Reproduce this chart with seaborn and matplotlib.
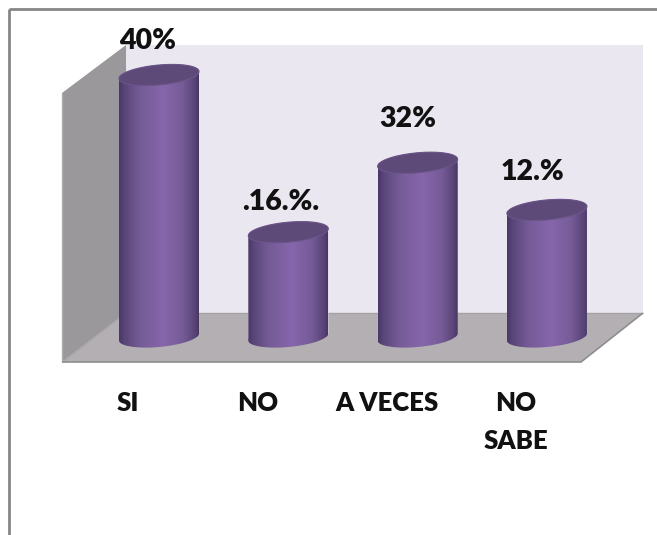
import numpy as np
import pandas as pd
import matplotlib
matplotlib.use("Agg")
import matplotlib.pyplot as plt
from matplotlib.colors import LinearSegmentedColormap
from matplotlib.lines import Line2D
from matplotlib.patches import Polygon
from matplotlib.path import Path
import seaborn as sns

# ---- data -------------------------------------------------------------
categories = ["SI", "NO", "A VECES", "NO\nSABE"]
bar_heights = [40.0, 16.0, 26.6, 19.4]      # as drawn
value_labels = ["40%", ".16.%.", "32%", "12.%"]  # as printed on the chart

# ---- style ------------------------------------------------------------
W, H = 657, 535
sns.set_theme(style="white")
plt.rcParams["font.family"] = ["Lato", "DejaVu Sans"]
plt.rcParams["font.weight"] = "bold"

fig = plt.figure(figsize=(W / 100, H / 100), dpi=100, facecolor="white")
FLOOR_FRONT = 362
ax = fig.add_axes([0, 1 - FLOOR_FRONT / H, 1, FLOOR_FRONT / H])
ax.patch.set_visible(False)


def fx(px):
    return px / W


def fy(py):
    return 1 - py / H


def fig_poly(pts, color, z=-5):
    fig.add_artist(Polygon([(fx(a), fy(b)) for a, b in pts], closed=True,
                           facecolor=color, edgecolor="none",
                           transform=fig.transFigure, zorder=z))


def fig_line(xs, ys, color, lw, z=-4):
    fig.add_artist(Line2D([fx(a) for a in xs], [fy(b) for b in ys], color=color,
                          lw=lw, transform=fig.transFigure, zorder=z,
                          solid_capstyle="butt"))


# 3-D box: back wall, side wall, floor
fig_poly([(126, 45), (643, 45), (643, 313), (126, 313)], "#EAE7F0")
fig_poly([(62, 93), (126, 45), (126, 313), (62, 362)], "#9A989B")
fig_poly([(62, 362), (126, 313), (643, 313), (581, 362)], "#B3AFB3")
fig_line([126, 643], [313, 313], "#A5A2A7", 1)
fig_line([64, 126], [361, 313], "#A9A7AA", 1)
fig_line([62, 62], [93, 362], "#B0AEB2", 1)
fig_line([62, 581, 643], [362, 362, 313], "#8E8D90", 1.2)
# outer frame
fig_line([9, 657], [9, 9], "#868686", 2)
fig_line([9, 9], [9, 535], "#868686", 2)

# ---- bars -------------------------------------------------------------
df = pd.DataFrame({"category": categories, "height": bar_heights})
SPACING = 129.3
CYL_W = 80
FIRST_X = 159
BASE_Y = 337
PX_PER_UNIT = (BASE_Y - 75) / max(bar_heights)

sns.barplot(data=df, x="category", y="height", ax=ax, color="#7A5E9C",
            saturation=1, width=CYL_W / SPACING, zorder=3)

xlim = (-FIRST_X / SPACING, (W - FIRST_X) / SPACING)
ylim = (-(FLOOR_FRONT - BASE_Y) / PX_PER_UNIT, BASE_Y / PX_PER_UNIT)

cmap = LinearSegmentedColormap.from_list(
    "cyl",
    [(0.0, "#49386A"), (0.07, "#5A4679"), (0.25, "#735A95"), (0.55, "#8766AC"),
     (0.8, "#755B97"), (0.95, "#584478"), (1.0, "#47365F")])
grad = np.linspace(0, 1, 256).reshape(1, -1)

ELL_B = 10 / PX_PER_UNIT    # half-height of the ellipse
ELL_K = 3.5 / PX_PER_UNIT   # tilt of the ellipse (right side higher)

for bar in list(ax.patches):
    x0, w, top = bar.get_x(), bar.get_width(), bar.get_height()
    cx, a = x0 + w / 2, w / 2
    t_low = np.linspace(np.pi, 2 * np.pi, 60)
    low_x = cx + a * np.cos(t_low)
    low_y = ELL_B * np.sin(t_low) + ELL_K * np.cos(t_low)
    t_up = np.linspace(0, np.pi, 60)
    up_x = cx + a * np.cos(t_up)
    up_y = top + ELL_B * np.sin(t_up) + ELL_K * np.cos(t_up)
    body = Path(np.column_stack([np.r_[low_x, up_x], np.r_[low_y, up_y]]))
    bar.set_clip_path(body, ax.transData)
    im = ax.imshow(grad, cmap=cmap, extent=(x0, x0 + w, -2 * ELL_B, top + 2 * ELL_B),
                   aspect="auto", zorder=3.1, interpolation="bilinear")
    im.set_clip_path(body, ax.transData)
    t = np.linspace(0, 2 * np.pi, 120)
    cap = np.column_stack([cx + a * np.cos(t),
                           top + ELL_B * np.sin(t) + ELL_K * np.cos(t)])
    ax.add_patch(Polygon(cap, closed=True, facecolor="#5E4A78",
                         edgecolor="#6B5589", lw=0.8, zorder=3.2))

ax.set_xlim(*xlim)
ax.set_ylim(*ylim)

# ---- value labels -----------------------------------------------------
label_dx = [-11, -8, -10, -14]
label_dy = [34, 30, 44, 38]
for i, (v, txt) in enumerate(zip(bar_heights, value_labels)):
    ax.annotate(txt, (i, v), xytext=(label_dx[i], label_dy[i]),
                textcoords="offset pixels", ha="center", va="center",
                fontsize=20.5, fontweight="heavy", color="#111111", zorder=5,
                annotation_clip=False)

# ---- axis -------------------------------------------------------------
ax.set_xlabel("")
ax.set_ylabel("")
ax.set_yticks([])
ax.set_xticks(np.arange(len(categories)) - 31 / SPACING)
ax.set_xticklabels(categories, fontsize=18.5, fontweight="heavy", color="#111111",
                   linespacing=1.7)
ax.tick_params(axis="x", length=0, pad=21)
for s in ax.spines.values():
    s.set_visible(False)

fig.savefig("out.png", dpi=100, facecolor="white")
